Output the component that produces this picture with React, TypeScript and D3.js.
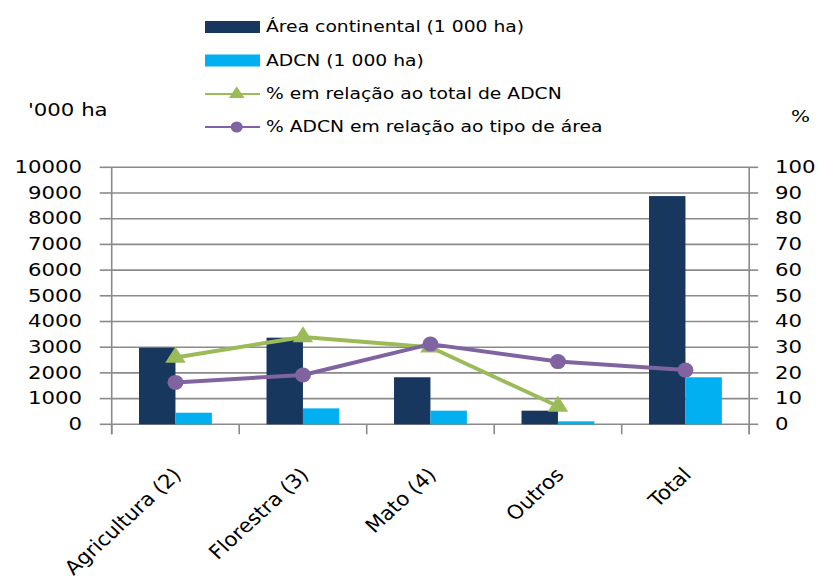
import React from "react";
import * as d3 from "d3";

const categories = ["Agricultura (2)", "Florestra (3)", "Mato (4)", "Outros", "Total"];
const areaContinental = [2980, 3370, 1830, 530, 8880];
const adcn = [450, 620, 530, 115, 1830];
const pctTotalADCN = [26, 34, 30, 7];
const pctTipoArea = [16.3, 19.2, 31.2, 24.4, 21.1];
const leftTicks = [0, 1000, 2000, 3000, 4000, 5000, 6000, 7000, 8000, 9000, 10000];
const rightTicks = [0, 10, 20, 30, 40, 50, 60, 70, 80, 90, 100];
const seriesNames = ["Área continental (1 000 ha)", "ADCN (1 000 ha)"];
const lineNames = ["% em relação ao total de ADCN", "% ADCN em relação ao tipo de área"];

const W = 820, H = 585;
const L = 111.7, R = 749.2, TOP = 167.3, BOT = 424.3;
const SX = 1.25;
const FONT = "DejaVu Sans";
const NAVY = "#17375E", CYAN = "#00B0F0", GREEN = "#9BBB59", PURPLE = "#8064A2";
const GRID = "#8a8a8a";
const TICK = 10;

function ST({ x, y, anchor = "start", size, rot = 0, sx = SX, children }: any) {
  return (
    <g transform={`translate(${x},${y}) scale(${sx},1)${rot ? ` rotate(${rot})` : ""}`}>
      <text textAnchor={anchor} fontSize={size} fontFamily={FONT} fill="#000" dominantBaseline={rot ? "auto" : "central"}>
        {children}
      </text>
    </g>
  );
}

export default function App() {
  const x = d3.scaleBand<string>().domain(categories).range([L, R]).paddingInner(0).paddingOuter(0);
  const xs = d3.scaleBand<string>().domain(seriesNames).range([0, x.bandwidth()]).paddingInner(0).paddingOuter(0.75);
  const yL = d3.scaleLinear().domain([0, 10000]).range([BOT, TOP]);
  const yR = d3.scaleLinear().domain([0, 100]).range([BOT, TOP]);
  const cx = (c: string) => (x(c) as number) + x.bandwidth() / 2;

  const lineG = d3.line<number>().x((_, i) => cx(categories[i])).y((d) => yR(d));
  const tri = d3.symbol().type(d3.symbolTriangle).size(150)();

  const boundaries = categories.map((c) => x(c) as number).concat([R]);

  const legendY = [27, 60.5, 94, 127];

  return (
    <svg width={W} height={H} style={{ position: "absolute", left: 0, top: 0, background: "#fff" }}>
      {/* grid */}
      {leftTicks.map((t) => (
        <g key={"g" + t}>
          {t > 0 && <line x1={L} x2={R} y1={yL(t)} y2={yL(t)} stroke={GRID} strokeWidth={1.6} />}
          <line x1={L - 12} x2={L} y1={yL(t)} y2={yL(t)} stroke={GRID} strokeWidth={1.6} />
          <ST x={82} y={yL(t)} anchor="end" size={17}>{t}</ST>
        </g>
      ))}
      {rightTicks.map((t) => (
        <g key={"r" + t}>
          <line x1={R} x2={R + 9} y1={yR(t)} y2={yR(t)} stroke={GRID} strokeWidth={1.6} />
          <ST x={775} y={yR(t)} anchor="start" size={17}>{t}</ST>
        </g>
      ))}
      {/* axes */}
      <line x1={L} x2={L} y1={TOP} y2={BOT + TICK} stroke={GRID} strokeWidth={1.6} />
      <line x1={R} x2={R} y1={TOP} y2={BOT + TICK} stroke={GRID} strokeWidth={1.6} />
      <line x1={L} x2={R} y1={BOT} y2={BOT} stroke={GRID} strokeWidth={1.6} />
      {boundaries.map((b, i) => (
        <line key={"b" + i} x1={b} x2={b} y1={BOT} y2={BOT + TICK} stroke={GRID} strokeWidth={1.6} />
      ))}
      {/* bars */}
      {categories.map((c, i) => (
        <g key={"bar" + c}>
          <rect x={(x(c) as number) + (xs(seriesNames[0]) as number)} width={xs.bandwidth()} y={yL(areaContinental[i])} height={BOT - yL(areaContinental[i])} fill={NAVY} />
          <rect x={(x(c) as number) + (xs(seriesNames[1]) as number)} width={xs.bandwidth()} y={yL(adcn[i])} height={BOT - yL(adcn[i])} fill={CYAN} />
        </g>
      ))}
      {/* lines */}
      <path d={lineG(pctTotalADCN) || ""} fill="none" stroke={GREEN} strokeWidth={4} strokeLinejoin="round" />
      {pctTotalADCN.map((v, i) => (
        <path key={"t" + i} d={tri || ""} transform={`translate(${cx(categories[i])},${yR(v)}) scale(1.1,1)`} fill={GREEN} />
      ))}
      <path d={lineG(pctTipoArea) || ""} fill="none" stroke={PURPLE} strokeWidth={4} strokeLinejoin="round" />
      {pctTipoArea.map((v, i) => (
        <ellipse key={"c" + i} cx={cx(categories[i])} cy={yR(v)} rx={8} ry={7.5} fill={PURPLE} />
      ))}
      {/* x labels */}
      {categories.map((c) => (
        <ST key={"xl" + c} x={cx(c) + 7} y={476} anchor="end" size={19.5} sx={1.09} rot={-45}>{c}</ST>
      ))}
      {/* axis titles */}
      <ST x={28} y={110} size={17}>'000 ha</ST>
      <ST x={791} y={116.5} size={16}>%</ST>
      {/* legend */}
      <rect x={205} y={legendY[0] - 6} width={55} height={12} fill={NAVY} />
      <rect x={205} y={legendY[1] - 6} width={55} height={12} fill={CYAN} />
      <line x1={205} x2={260} y1={legendY[2]} y2={legendY[2]} stroke={GREEN} strokeWidth={2} />
      <path d={d3.symbol().type(d3.symbolTriangle).size(80)() || ""} transform={`translate(236.7,${legendY[2]}) scale(1.15,1)`} fill={GREEN} />
      <line x1={205} x2={260} y1={legendY[3]} y2={legendY[3]} stroke={PURPLE} strokeWidth={2} />
      <ellipse cx={236.7} cy={legendY[3]} rx={6} ry={5.5} fill={PURPLE} />
      <ST x={266} y={legendY[0]} size={15}>{seriesNames[0]}</ST>
      <ST x={266} y={legendY[1]} size={15}>{seriesNames[1]}</ST>
      <ST x={266} y={legendY[2]} size={15}>{lineNames[0]}</ST>
      <ST x={266} y={legendY[3]} size={15}>{lineNames[1]}</ST>
    </svg>
  );
}
